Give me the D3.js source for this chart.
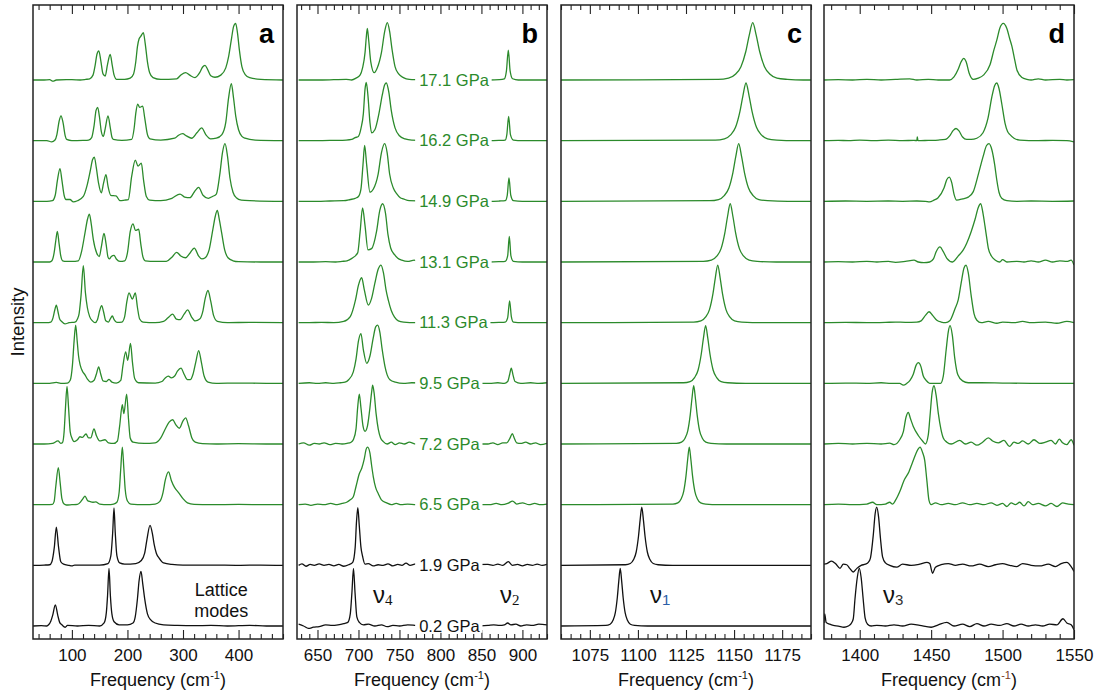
<!DOCTYPE html>
<html><head><meta charset="utf-8">
<script src="https://cdn.jsdelivr.net/npm/d3@7/dist/d3.min.js"></script>
<style>
body{margin:0;background:#fff}
svg{display:block}
text{font-family:"Liberation Sans",Arial,Helvetica,sans-serif}
</style>
</head><body>
<svg id="chart" width="1104" height="700"></svg>
<script>
// ---------------- DATA ----------------
const pressures = ["0.2 GPa","1.9 GPa","6.5 GPa","7.2 GPa","9.5 GPa","11.3 GPa","13.1 GPa","14.9 GPa","16.2 GPa","17.1 GPa"];
const phase = ["low","low","high","high","high","high","high","high","high","high"];

const latticeTicks = [100,200,300,400];
const nu4Ticks = [650,700,750,800,850,900];
const nu1Ticks = [1075,1100,1125,1150,1175];
const nu3Ticks = [1400,1450,1500,1550];

// spectra: [frequency (cm-1), intensity relative to own baseline], one array per pressure (low -> high)
const latticeSpectra = [
 [[30,0],[45,0.005],[55,0],[58,0.02],[62,0.08],[65.5,0.18],[70.2,0.35],[74.5,0.18],[78,0.06],[82,0.02],[88,-0.02],[92,0.01],[110,0],[130,0.01],[150,0],[158,0.05],[162,0.22],[164.2,0.5],[166.8,0.95],[169.3,0.5],[172,0.2],[176,0.07],[185,0.02],[200,0.02],[210,0.05],[214,0.15],[218,0.45],[221,0.75],[224.4,0.9],[227.5,0.7],[231,0.45],[236,0.2],[242,0.1],[250,0.05],[265,0.02],[290,0.01],[320,0.005],[350,0.01],[380,0],[420,0.01],[450,0],[480,0]],
 [[30,0],[50,0.005],[60,0.01],[64,0.06],[68.4,0.3],[72,0.63],[76,0.3],[80,0.06],[85,0.02],[95,0],[100,-0.01],[105,0.005],[130,0.005],[150,0.005],[165,0.03],[170,0.15],[173.5,0.55],[175.8,0.945],[178,0.55],[181,0.16],[186,0.04],[195,0.02],[215,0.03],[225,0.08],[231,0.2],[235,0.42],[240.6,0.66],[245,0.52],[248,0.35],[252,0.2],[257,0.12],[265,0.04],[280,0.015],[300,0.005],[350,0.005],[400,0],[440,0.005],[480,0]],
 [[30,0],[55,0],[65,0.005],[68,0.05],[71,0.3],[75.6,0.61],[79,0.35],[82,0.1],[86,0.01],[90,-0.005],[100,0],[110,0.005],[116,0.05],[120,0.1],[123.6,0.14],[128,0.07],[133,0.05],[138,0.04],[143,0.045],[150,0.01],[165,0],[175,0.01],[181,0.04],[185,0.2],[188,0.6],[190.8,0.95],[193.5,0.6],[196,0.25],[200,0.06],[206,0.01],[230,0],[250,0.01],[258,0.05],[264,0.2],[268,0.4],[274,0.54],[279,0.4],[285,0.28],[292,0.2],[300,0.1],[308,0.03],[320,0.005],[350,0],[400,0.005],[450,0],[480,0]],
 [[30,0],[50,0],[65,0.01],[75,0.05],[80,0.01],[83,0.02],[86,0.2],[88.5,0.6],[91.2,0.95],[94,0.6],[97,0.2],[100,0.1],[104,0.04],[110,0.07],[114.6,0.12],[119,0.11],[125.4,0.165],[130,0.1],[134,0.1],[139.8,0.25],[144,0.14],[150,0.05],[159.6,0.07],[166,0.02],[175,0.01],[182,0.05],[186,0.3],[190.8,0.65],[193.5,0.5],[198.6,0.82],[202,0.4],[205,0.1],[210,0.03],[230,0.01],[250,0.02],[260,0.1],[267.6,0.24],[275,0.36],[281.4,0.4],[287,0.32],[293.4,0.26],[300,0.38],[304.8,0.43],[310,0.3],[316,0.1],[322,0.03],[335,0.005],[360,0],[400,0.005],[450,0],[480,0]],
 [[30,0],[60,0],[72,0.015],[80,0],[92,0.005],[97,0.05],[101,0.3],[104,0.7],[106.8,0.96],[109.5,0.7],[112,0.45],[115,0.3],[119,0.2],[123.6,0.14],[128,0.07],[134,0.02],[140,0.05],[144,0.15],[148.2,0.27],[152,0.15],[156,0.04],[162,0.03],[166.8,0.066],[172,0.02],[180,0.005],[188,0.05],[192,0.3],[196.8,0.52],[200.5,0.38],[205.5,0.66],[209,0.35],[213,0.08],[220,0.01],[250,0.005],[262,0.03],[268,0.09],[273.6,0.12],[279,0.09],[285,0.12],[290,0.2],[296.4,0.25],[302,0.15],[308,0.06],[313,0.06],[318,0.15],[323,0.35],[328.2,0.54],[333,0.35],[338,0.12],[345,0.02],[360,0],[400,0.005],[450,0],[480,0]],
 [[30,0],[55,0],[62,0.01],[66,0.08],[69,0.2],[72,0.29],[75,0.18],[78,0.06],[81.6,0.02],[87.6,-0.02],[95,0],[105.6,0.01],[110,0.06],[113,0.15],[116.5,0.45],[120.6,0.94],[124.3,0.5],[127.8,0.25],[132,0.1],[137,0.03],[141.6,0],[146,0.05],[150,0.2],[153.6,0.28],[157,0.18],[161,0.03],[166,0.01],[169,0.06],[172.8,0.11],[176,0.05],[181,0.005],[190,0.01],[195,0.1],[199,0.35],[202.8,0.49],[208.8,0.39],[214.2,0.49],[218,0.25],[222,0.06],[228,0.01],[250,0],[265,0.02],[273,0.08],[281.4,0.14],[288,0.06],[295,0.05],[302,0.14],[308.4,0.21],[315,0.1],[322,0.03],[330,0.06],[336,0.2],[340,0.4],[345,0.53],[350,0.35],[355,0.12],[362,0.02],[380,0],[420,0.005],[480,0]],
 [[30,0],[50,0],[60,0],[64,0.02],[68,0.15],[71,0.35],[73.8,0.505],[77,0.3],[80,0.1],[83.4,0.02],[90,0.01],[100,0.01],[111.6,0.02],[117.6,0.18],[123.6,0.48],[128,0.7],[131.4,0.79],[134.5,0.65],[138.6,0.37],[144.6,0.15],[149.4,0.09],[153,0.25],[157.8,0.47],[161.5,0.3],[165,0.08],[167.4,0.05],[171,0.09],[175.8,0.11],[180,0.05],[186.6,0.01],[195,0.02],[200,0.15],[205,0.5],[210,0.63],[214.5,0.52],[220.2,0.54],[224,0.3],[228,0.08],[232,0.02],[250,0.01],[270,0.01],[280,0.08],[288.6,0.16],[296,0.1],[304.8,0.07],[312,0.14],[320.4,0.23],[328,0.1],[334,0.05],[340,0.07],[347,0.2],[354,0.55],[358,0.75],[361.8,0.85],[365,0.72],[369.6,0.48],[375,0.2],[381,0.07],[390,0.02],[400,0.005],[440,0],[480,0]],
 [[30,0],[55,0],[65,0.01],[70,0.1],[74,0.35],[78.6,0.54],[82,0.35],[86,0.1],[89.4,0.03],[96.6,0.03],[102.6,-0.01],[110,0.01],[120.6,0.08],[127,0.25],[133,0.5],[137,0.68],[140.4,0.73],[144,0.55],[148,0.3],[153,0.14],[157,0.3],[161.4,0.44],[165,0.25],[170,0.1],[179.4,0.09],[186.6,0.01],[195,0.02],[201.6,0.03],[207.6,0.41],[214.2,0.68],[219,0.58],[225,0.63],[229,0.35],[234,0.08],[240,0.02],[260,0.01],[280,0.05],[294.6,0.12],[303,0.07],[312.6,0.06],[320,0.15],[328.2,0.23],[336,0.1],[345.6,0.05],[353,0.08],[360,0.12],[366.6,0.47],[371,0.8],[375.6,0.95],[380,0.75],[384.6,0.38],[390,0.15],[396,0.06],[405,0.02],[420,0.01],[480,0]],
 [[30,0],[55,0],[63.6,-0.02],[69.6,0.01],[73,0.1],[77,0.32],[80.4,0.41],[84,0.3],[88,0.08],[90.6,0.02],[100,0],[120,0.005],[130,0.01],[135.6,0.05],[140,0.25],[143.5,0.5],[146.4,0.55],[149.5,0.4],[153,0.15],[156.6,0.07],[160,0.2],[165,0.41],[169,0.22],[172,0.06],[174.6,0.02],[190,0.005],[207.6,0.02],[212,0.2],[215,0.45],[218.4,0.6],[222,0.55],[227.4,0.57],[231,0.38],[236,0.1],[240.6,0.03],[260,0.01],[285,0.04],[292,0.09],[299.4,0.115],[306,0.08],[315.6,0.04],[325,0.13],[333.6,0.21],[341,0.1],[349.8,0.03],[360,0.04],[370,0.1],[377,0.3],[382,0.7],[387,0.94],[391,0.7],[395,0.4],[400,0.18],[406,0.07],[411.6,0.04],[430,0.01],[480,0]],
 [[30,0],[50,0],[60,0.005],[66,-0.02],[72,0],[90,0.005],[100,0.005],[115,0],[125,0.01],[132,0.02],[138,0.08],[142,0.25],[145,0.42],[148.5,0.48],[152,0.32],[156,0.1],[160,0.066],[164,0.25],[169,0.42],[172.5,0.25],[176,0.08],[180.6,0.01],[195,0.01],[205,0.03],[211,0.1],[215,0.3],[218,0.55],[221,0.68],[224,0.72],[228.6,0.78],[232,0.6],[236,0.3],[240,0.12],[246,0.04],[260,0.01],[288.6,0.02],[296,0.08],[304.8,0.12],[312,0.08],[321.6,0.04],[330,0.12],[335,0.21],[339.6,0.24],[344,0.18],[350,0.07],[357.6,0.045],[368,0.08],[377,0.2],[382,0.38],[387.6,0.7],[391,0.88],[394.8,0.934],[398,0.78],[401.4,0.5],[406,0.22],[412,0.09],[420,0.04],[440,0.01],[480,0]]
];

const nu4Spectra = [
 [[627,0.03],[633,0.0],[639,-0.04],[645,-0.02],[652,-0.01],[660,0.02],[668,0.01],[675,0.02],[682,0.04],[687,0.06],[690,0.2],[692,0.55],[693.9,0.95],[695.8,0.55],[698,0.15],[701,0.06],[706,0.02],[712,0.03],[720,0.0],[728,0.02],[735,-0.01],[742,0.01],[750,0.0],[760,0.02],[770,0.01],[780,0.0],[800,0.01],[820,0.0],[840,0.0],[858,0.01],[865,0.02],[872,0.01],[878,0.02],[882,0.05],[886,0.02],[892,0.03],[898,0.0],[905,0.02],[912,0.01],[920,0.03],[930,0.02]],
 [[627,0.0],[631,0.025],[636,-0.015],[641,0.015],[646,0.0],[652,0.025],[658,0.0],[664,0.015],[670,-0.01],[676,0.015],[682,-0.015],[688,0.01],[693,0.05],[696,0.3],[697.5,0.7],[699.2,0.95],[701,0.65],[703,0.3],[705,0.15],[708,0.02],[712,0.03],[718,-0.01],[724,0.01],[730,0.0],[736,0.025],[742,-0.01],[748,0.015],[753,0.0],[758,0.035],[763,0.0],[770,0.025],[780,0.0],[800,0],[858,0.015],[864,0.0],[870,0.02],[876,0.0],[882.8,0.06],[888,0.0],[894,0.015],[900,-0.01],[906,0.015],[912,0.0],[918,0.02],[924,0.0],[930,0.015]],
 [[627,0.0],[635,0.01],[642,-0.01],[650,0.01],[658,0.0],[666,0.02],[674,0.0],[680,0.02],[685.6,0.04],[690,0.08],[693.7,0.13],[697,0.3],[701,0.51],[704,0.6],[707,0.75],[709.5,0.92],[711.2,0.95],[714,0.85],[716,0.65],[718.1,0.46],[721,0.28],[724.2,0.18],[728,0.08],[734.4,0.03],[740,0.0],[746,0.02],[752,0.0],[760,0.01],[770,0.0],[800,0],[860,0.0],[868,0.02],[875,0.0],[882,0.02],[888.1,0.06],[893,0.01],[900,0.03],[908,0.0],[915,0.02],[922,0.0],[930,0.01]],
 [[627,0.0],[633,0.02],[640,-0.02],[646,0.01],[652,0.0],[658,0.02],[665,-0.01],[672,0.01],[680,0.0],[686,0.01],[691,0.03],[694,0.08],[697,0.25],[699,0.6],[701,0.82],[703,0.6],[705.5,0.3],[708,0.21],[711,0.3],[714,0.6],[716,0.85],[717.3,0.97],[719,0.85],[721.5,0.5],[724.2,0.24],[727,0.1],[730.3,0.04],[735,0.0],[740,0.03],[745,-0.01],[750,0.02],[756,0.0],[762,0.03],[770,0.0],[800,0],[858,0.0],[864,0.02],[870,-0.01],[876,0.02],[881,0.02],[885,0.1],[887.7,0.17],[890,0.1],[893,0.02],[898,0.01],[904,0.03],[910,0.0],[916,0.02],[922,-0.01],[930,0.01]],
 [[627,0.0],[640,0.01],[650,0.0],[660,0.01],[670,0.0],[678,0.01],[683.6,0.02],[688,0.06],[693.7,0.19],[697,0.4],[700,0.7],[703,0.82],[706,0.55],[710.1,0.33],[714,0.45],[718,0.75],[721,0.93],[723.4,0.96],[726,0.85],[729,0.55],[732.3,0.28],[735,0.14],[738.4,0.06],[745,0.02],[755,0.0],[765,0.01],[800,0],[860,0.0],[870,0.01],[878,0.0],[882,0.03],[884.5,0.15],[886.4,0.25],[888.5,0.14],[891,0.03],[898,0.0],[910,0.01],[920,0.0],[930,0.01]],
 [[627,0.0],[640,0.0],[655,0.005],[670,0.0],[682,0.02],[690,0.1],[696.3,0.37],[700,0.62],[703.9,0.74],[707,0.55],[712,0.29],[716,0.4],[720,0.65],[724,0.88],[727.4,0.95],[730.5,0.82],[733.5,0.55],[736.4,0.37],[740,0.2],[744,0.09],[748.6,0.03],[755,0.01],[770,0.0],[800,0],[860,0.0],[872,0.005],[879,0.01],[882,0.08],[884.4,0.36],[886.5,0.1],[889,0.01],[900,0.0],[930,0.0]],
 [[627,0.0],[645,0.0],[660,0.005],[672,0.0],[680,0.01],[686,0.02],[692,0.06],[699,0.15],[702,0.5],[705,0.89],[708,0.6],[711.6,0.2],[716,0.22],[722,0.5],[726,0.85],[729.5,0.96],[733,0.8],[736,0.45],[739.3,0.23],[744,0.12],[748,0.06],[752.8,0.03],[760,0.01],[768,0.03],[772,0.01],[800,0],[860,0.0],[872,0.005],[879,0.01],[882,0.1],[884,0.42],[886,0.1],[889,0.01],[900,0.0],[930,0.0]],
 [[627,0.0],[650,0.0],[665,0.005],[682,0.01],[690,0.03],[696,0.05],[700,0.08],[703,0.2],[705.5,0.6],[707.5,0.92],[710,0.6],[714,0.15],[718,0.2],[724,0.45],[728,0.8],[731.9,0.95],[735,0.8],[738,0.45],[742.5,0.22],[747,0.12],[751,0.06],[754.8,0.04],[762,0.01],[800,0],[860,0.0],[872,0.005],[879,0.01],[881.5,0.1],[883.6,0.385],[885.8,0.1],[889,0.01],[900,0.0],[930,0.0]],
 [[627,0.0],[650,0.0],[670,0.005],[685,0.01],[691.7,0.02],[696,0.05],[699.8,0.07],[703,0.2],[706,0.45],[708,0.85],[709.5,0.96],[711.5,0.75],[714,0.3],[716,0.13],[720,0.18],[725,0.45],[729,0.75],[732,0.92],[734,0.95],[737,0.8],[740,0.5],[744.6,0.21],[750,0.08],[756.8,0.03],[765,0.01],[800,0],[860,0.0],[872,0.005],[879,0.01],[881,0.1],[883.2,0.4],[885.4,0.1],[889,0.01],[900,0.0],[930,0.0]],
 [[627,0.0],[650,0.0],[670,0.005],[685,0.01],[691.7,0.0],[697,0.03],[701.9,0.08],[705,0.2],[708,0.45],[709.5,0.7],[710.8,0.85],[712.5,0.65],[715,0.3],[719.3,0.12],[723,0.2],[728,0.45],[732,0.8],[735.2,0.945],[738,0.8],[741,0.5],[744.6,0.22],[749,0.1],[754.8,0.04],[762,0.01],[770,0.005],[800,0],[860,0.0],[872,0.005],[878,0.02],[880.5,0.15],[882.8,0.49],[885,0.15],[888,0.02],[895,0.0],[930,0.0]]
];

const nu1Spectra = [
 [[1060,0],[1083.3,0.01],[1085.55,0.03],[1087.05,0.095],[1088.25,0.22],[1089.3,0.475],[1090.05,0.74],[1090.8,0.95],[1091.55,0.74],[1092.3,0.475],[1093.35,0.22],[1094.55,0.095],[1096.05,0.03],[1098.3,0.01],[1105,0],[1190,0]],
 [[1060,0],[1093.5,0.01],[1096.05,0.03],[1097.75,0.096],[1099.1,0.22],[1100.3,0.48],[1101.15,0.75],[1102,0.96],[1102.85,0.75],[1103.7,0.48],[1104.9,0.22],[1106.25,0.096],[1107.95,0.03],[1110.5,0.01],[1118,0],[1190,0]],
 [[1060,0],[1118.2,0.01],[1120.75,0.03],[1122.45,0.095],[1123.8,0.22],[1125,0.475],[1125.85,0.74],[1126.7,0.95],[1127.55,0.74],[1128.4,0.475],[1129.6,0.22],[1130.95,0.095],[1132.65,0.03],[1135.2,0.01],[1142,0],[1190,0]],
 [[1060,0],[1120,0.01],[1122.7,0.03],[1124.5,0.096],[1125.94,0.22],[1127.2,0.48],[1128.1,0.75],[1129,0.96],[1129.9,0.75],[1130.8,0.48],[1132.06,0.22],[1133.5,0.096],[1135.3,0.03],[1138,0.01],[1146,0],[1190,0]],
 [[1060,0],[1123.7,0.01],[1127.15,0.03],[1129.45,0.095],[1131.3,0.22],[1132.9,0.475],[1134.05,0.74],[1135.2,0.95],[1136.35,0.74],[1137.5,0.475],[1139.1,0.22],[1140.95,0.095],[1143.25,0.03],[1146.7,0.01],[1156,0],[1190,0]],
 [[1060,0],[1129,0.01],[1132.75,0.03],[1135.25,0.095],[1137.25,0.22],[1139,0.475],[1140.25,0.74],[1141.5,0.95],[1142.75,0.74],[1144,0.475],[1145.75,0.22],[1147.75,0.095],[1150.25,0.03],[1154,0.01],[1165,0],[1190,0]],
 [[1060,0],[1134,0.01],[1138.2,0.03],[1141,0.096],[1143.24,0.22],[1145.2,0.48],[1146.6,0.75],[1148,0.96],[1149.4,0.75],[1150.8,0.48],[1152.76,0.22],[1155,0.096],[1157.8,0.03],[1162,0.01],[1172,0],[1190,0]],
 [[1060,0],[1137.4,0.01],[1141.9,0.03],[1144.9,0.095],[1147.3,0.22],[1149.4,0.475],[1150.9,0.74],[1152.4,0.95],[1153.9,0.74],[1155.4,0.475],[1157.5,0.22],[1159.9,0.095],[1162.9,0.03],[1167.4,0.01],[1178,0],[1190,0]],
 [[1060,0],[1140.2,0.01],[1145,0.03],[1148.2,0.095],[1150.76,0.22],[1153,0.475],[1154.6,0.74],[1156.2,0.95],[1157.8,0.74],[1159.4,0.475],[1161.64,0.22],[1164.2,0.095],[1167.4,0.03],[1172.2,0.01],[1182,0],[1190,0]],
 [[1060,0],[1141.7,0.01],[1147.1,0.03],[1150.7,0.095],[1153.58,0.22],[1156.1,0.47],[1157.9,0.74],[1159.7,0.945],[1161.5,0.74],[1163.3,0.47],[1165.82,0.22],[1168.7,0.095],[1172.3,0.03],[1177.7,0.01],[1186,0],[1190,0]]
];

const nu3Spectra = [
 [[1375,0.05],[1375.5,0.2],[1376.5,0.06],[1379,0.03],[1381.5,0.01],[1385,0.0],[1389,-0.02],[1392,0.0],[1394,0.04],[1395.5,0.12],[1396.7,0.45],[1398.3,0.8],[1399.7,0.95],[1401,0.8],[1402.4,0.45],[1403.8,0.13],[1405.5,0.03],[1408,0.0],[1412,0.01],[1418,0.0],[1424,0.02],[1430,0.0],[1436,0.03],[1442,0.01],[1450,-0.02],[1455,0.02],[1461,0.06],[1466,0.0],[1472,0.03],[1477,-0.01],[1482,0.04],[1487,0.0],[1492,0.03],[1498,0.01],[1503,0.04],[1508,0.0],[1513,0.03],[1518,0.0],[1523,0.02],[1528,0.0],[1533,0.03],[1538,0.02],[1542.3,0.12],[1545,0.05],[1548,0.02],[1550,-0.06]],
 [[1375,0.02],[1377,0.03],[1380.3,0.07],[1383,0.03],[1386.2,-0.05],[1388.5,0.02],[1390.9,0.01],[1393,-0.05],[1395.5,-0.11],[1398,-0.05],[1401,0.0],[1404,0.02],[1406,0.05],[1407.5,0.12],[1409.5,0.5],[1410.8,0.85],[1411.9,0.96],[1413.2,0.8],[1414.5,0.45],[1416,0.14],[1418,0.04],[1421,0.0],[1425.9,-0.03],[1430,0.02],[1436,0.0],[1442,0.02],[1447,0.05],[1449,0.03],[1451,-0.13],[1453,-0.03],[1457,0.01],[1462,0.03],[1467,0.0],[1472,0.02],[1478,-0.01],[1484,0.02],[1490,-0.02],[1495,0.01],[1500,0.03],[1505,0.0],[1510,-0.02],[1514,0.03],[1520,0.0],[1526,-0.01],[1532,0.02],[1537,-0.02],[1541,0.03],[1545,0.05],[1548,-0.02],[1550,-0.1]],
 [[1375,0.0],[1385,0.01],[1395,0.0],[1405,0.01],[1409,0.04],[1412,0.0],[1418,0.01],[1421,0.04],[1423,0.01],[1425,0.07],[1428.5,0.24],[1431,0.4],[1434.4,0.54],[1437,0.7],[1441,0.92],[1442.2,0.95],[1444,0.86],[1445.5,0.73],[1447,0.4],[1448.5,0.07],[1450,0.0],[1453,0.03],[1457,0.0],[1462,0.02],[1467,0.0],[1472,0.03],[1477,0.0],[1482,0.02],[1487,0.0],[1492,0.03],[1496,-0.01],[1500,0.02],[1503,-0.03],[1506,0.03],[1509,0.0],[1512,0.04],[1515,-0.02],[1518,0.05],[1521,0.0],[1525,0.02],[1530,-0.02],[1534,0.02],[1538,-0.03],[1542,0.03],[1546,0.01],[1550,0.0]],
 [[1375,0.0],[1385,0.01],[1395,0.0],[1405,0.01],[1415,0.0],[1421,0.015],[1424,-0.01],[1428,0.07],[1430.5,0.2],[1432.5,0.45],[1434,0.52],[1435.5,0.42],[1437.5,0.29],[1441,0.14],[1444,0.05],[1446,0.0],[1448,0.15],[1449.2,0.46],[1450.7,0.85],[1452,0.96],[1453.5,0.8],[1455,0.51],[1456.8,0.25],[1458.5,0.1],[1461,0.03],[1464,0.0],[1470,0.06],[1474,0.0],[1478,0.03],[1482,-0.02],[1486,0.03],[1490,0.1],[1493,0.05],[1497,0.02],[1501,0.06],[1504.8,-0.04],[1508,0.03],[1511,0.01],[1514,0.05],[1518,0.0],[1522,0.07],[1526,0.01],[1530,0.03],[1534,0.06],[1537,0.0],[1539.7,0.08],[1542,0.02],[1545,-0.01],[1548,0.07],[1550,-0.02]],
 [[1375,0.0],[1390,0.005],[1405,0.0],[1415,0.01],[1422,0.0],[1428,0.0],[1430.5,-0.03],[1433,0.0],[1435.2,0.05],[1437.5,0.15],[1439.5,0.3],[1441,0.34],[1442.8,0.28],[1444.5,0.12],[1446.5,0.05],[1449,0.0],[1456.6,0.0],[1458.5,0.12],[1460.5,0.55],[1462,0.85],[1463.2,0.95],[1464.8,0.8],[1466.5,0.42],[1468.7,0.14],[1472,0.04],[1476,0.01],[1485,0.01],[1500,0.005],[1520,0.0],[1550,0.0]],
 [[1375,0.0],[1390,0.005],[1405,0.0],[1418,0.005],[1425,0.01],[1432,0.005],[1440,0.01],[1443,0.03],[1446,0.12],[1448.5,0.18],[1451,0.12],[1454,0.04],[1457,0.01],[1460.2,0.0],[1463,0.03],[1466.7,0.23],[1469,0.38],[1471,0.65],[1473,0.9],[1474.4,0.95],[1476,0.82],[1478,0.45],[1480,0.15],[1482,0.04],[1485,0.0],[1490,0.02],[1496,-0.01],[1500,0.01],[1508,0.0],[1514,0.02],[1520,0.0],[1530,0.01],[1538,-0.01],[1545,0.02],[1550,0.0]],
 [[1375,0.0],[1385,0.005],[1395,0.0],[1405,0.01],[1412,0.0],[1420,0.01],[1425,-0.005],[1432,0.01],[1438,0.03],[1441,0.0],[1445,-0.01],[1449,0.0],[1451.6,0.05],[1453.5,0.17],[1456.2,0.25],[1458.5,0.17],[1461,0.06],[1465,0.0],[1469,0.1],[1472.5,0.2],[1474.9,0.31],[1478,0.5],[1480.7,0.7],[1483,0.9],[1484.7,0.96],[1486.3,0.8],[1487.7,0.59],[1489,0.38],[1490,0.23],[1492.4,0.09],[1495,0.03],[1498,0.0],[1500,0.04],[1503,0.0],[1510,0.01],[1515,0.0],[1520,0.02],[1525,0.0],[1530,0.03],[1535,0.0],[1540,0.02],[1545,0.01],[1548,0.03],[1550,-0.05]],
 [[1375,0.0],[1390,0.005],[1405,0.0],[1420,0.005],[1430,0.0],[1440,0.005],[1446,0.0],[1448.9,-0.01],[1452,0.02],[1454.7,0.055],[1459,0.22],[1461,0.36],[1462.7,0.4],[1464.5,0.3],[1466,0.12],[1467.9,0.02],[1472,0.04],[1476,0.07],[1479.5,0.16],[1483.3,0.47],[1486.5,0.75],[1488.8,0.92],[1490.5,0.95],[1492.5,0.85],[1494.5,0.6],[1495.9,0.36],[1497.5,0.15],[1499.4,0.05],[1503,0.01],[1510,0.0],[1520,0.005],[1535,0.0],[1550,0.005]],
 [[1375,0.0],[1385,0.005],[1392,0.0],[1400,0.01],[1410,0.0],[1420,0.01],[1430,0.0],[1438,0.005],[1440,0.0],[1440.3,0.06],[1440.8,0.0],[1448,0.005],[1455,0.01],[1460,0.02],[1463,0.08],[1465.5,0.17],[1467.4,0.2],[1469.5,0.16],[1472,0.06],[1474.9,0.02],[1478,0.02],[1482,0.04],[1486.3,0.13],[1489.8,0.37],[1492.5,0.72],[1494.5,0.91],[1495.9,0.95],[1497.5,0.86],[1499.5,0.6],[1501.7,0.29],[1503.5,0.15],[1505.2,0.1],[1508,0.04],[1512,0.01],[1525,0.0],[1535,0.005],[1545,0.0],[1550,-0.02]],
 [[1375,0.0],[1385,0.005],[1395,0.0],[1405,0.01],[1415,0.0],[1425,0.01],[1435,0.02],[1440,0.0],[1448,0.01],[1455,0.0],[1462.9,0.0],[1466,0.05],[1469,0.18],[1471,0.3],[1472.8,0.357],[1474.5,0.3],[1476.5,0.12],[1479.5,0.01],[1483,0.03],[1486.6,0.08],[1491.2,0.25],[1494,0.5],[1496,0.66],[1498,0.85],[1500.5,0.934],[1503,0.85],[1505,0.68],[1506.6,0.55],[1508.5,0.33],[1510.1,0.16],[1513.6,0.04],[1517,0.01],[1520,0.0],[1525,0.02],[1530,0.0],[1540,0.01],[1545,0.0],[1550,0.005]]
];

// ---------------- LAYOUT / STYLE ----------------
const GREEN = "#2b8a2b";
const colorOf = ph => ph === "low" ? "#111" : GREEN;
const PW = 250, TOP = 5, BOT = 639;
const lefts = [33, 297, 561, 824];

const panels = [
  {letter:"a", domain:[30,480], major:latticeTicks, minorStep:20, data:latticeSpectra},
  {letter:"b", domain:[625,930], major:nu4Ticks, minorStep:10, data:nu4Spectra},
  {letter:"c", domain:[1060,1190], major:nu1Ticks, minorStep:5, data:nu1Spectra},
  {letter:"d", domain:[1375,1550], major:nu3Ticks, minorStep:10, data:nu3Spectra}
];

const svg = d3.select("#chart");
const y = d3.scaleLinear().domain([-0.214, 10.236]).range([BOT, TOP]);

function styleAxis(g, fs){
  g.select(".domain").remove();
  g.selectAll(".tick line").attr("stroke","#222").attr("stroke-width",1.1);
  g.selectAll(".tick text").attr("fill","#111").attr("font-size",fs)
    .attr("font-family",'"Liberation Sans",Arial,sans-serif');
}

const xs = [];
panels.forEach((p,k)=>{
  const g = svg.append("g").attr("transform",`translate(${lefts[k]},0)`);
  const x = d3.scaleLinear().domain(p.domain).range([0,PW]);
  xs.push(x);
  g.append("clipPath").attr("id","clip"+k).append("rect")
    .attr("x",0).attr("y",TOP).attr("width",PW).attr("height",BOT-TOP);
  const lg = g.append("g").attr("clip-path",`url(#clip${k})`);
  p.data.forEach((tr,i)=>{
    const line = d3.line().x(d=>x(d[0])).y(d=>y(i+d[1])).curve(d3.curveMonotoneX);
    lg.append("path").attr("d",line(tr)).attr("fill","none")
      .attr("stroke",colorOf(phase[i])).attr("stroke-width",1.3).attr("stroke-linejoin","round");
  });

  const lo = Math.ceil(p.domain[0]/p.minorStep)*p.minorStep;
  const minor = d3.range(lo, p.domain[1]+0.001, p.minorStep).filter(v=>!p.major.includes(v));
  g.append("g").attr("transform",`translate(0,${BOT})`)
    .call(d3.axisBottom(x).tickValues(minor).tickSize(-5).tickFormat(""))
    .call(s=>styleAxis(s,17));
  g.append("g").attr("transform",`translate(0,${BOT})`)
    .call(d3.axisBottom(x).tickValues(p.major).tickSize(-9).tickPadding(10).tickFormat(d3.format("d")))
    .call(s=>styleAxis(s,17));
  g.append("g").attr("transform",`translate(0,${TOP})`)
    .call(d3.axisTop(x).tickValues(minor).tickSize(-5).tickFormat(""))
    .call(s=>styleAxis(s,17));
  g.append("g").attr("transform",`translate(0,${TOP})`)
    .call(d3.axisTop(x).tickValues(p.major).tickSize(-9).tickFormat(""))
    .call(s=>styleAxis(s,17));

  g.append("rect").attr("x",0).attr("y",TOP).attr("width",PW).attr("height",BOT-TOP)
    .attr("fill","none").attr("stroke","#222").attr("stroke-width",1.5);

  g.append("text").attr("x",PW-9).attr("y",43).attr("text-anchor","end")
    .attr("font-size",27).attr("font-weight","bold").attr("fill","#000").text(p.letter);

  const t = g.append("text").attr("x",PW/2).attr("y",686).attr("text-anchor","middle")
    .attr("font-size",18).attr("fill","#111");
  t.append("tspan").text("Frequency (cm");
  t.append("tspan").attr("font-size",11).attr("dy",-7).attr("fill", k===3 ? "#7a3b1a" : "#111").text("-1");
  t.append("tspan").attr("dy",7).text(")");
  p.g = g;
});

svg.append("text").attr("transform","translate(24,322) rotate(-90)")
  .attr("text-anchor","middle").attr("font-size",18.5).attr("fill","#111").text("Intensity");

const gb = panels[1].g, xb = xs[1];
pressures.forEach((lab,i)=>{
  const col = colorOf(phase[i]);
  const bgr = gb.append("rect").attr("fill","#fff");
  const tx = gb.append("text").attr("x",xb(774)).attr("y",y(i)).attr("dy","0.35em")
    .attr("font-size",16.5).attr("fill",col).text(lab);
  const bb = tx.node().getBBox();
  bgr.attr("x",bb.x-4).attr("y",bb.y+2).attr("width",bb.width+6).attr("height",bb.height-4);
});

const ga = panels[0].g, xa = xs[0];
ga.append("text").attr("x",xa(369)).attr("y",y(0.49)).attr("text-anchor","middle")
  .attr("font-size",18).attr("fill","#111").text("Lattice");
ga.append("text").attr("x",xa(369)).attr("y",y(0.15)).attr("text-anchor","middle")
  .attr("font-size",18).attr("fill","#111").text("modes");

function nuLabel(g, xpos, sub, subColor, subFont){
  const t = g.append("text").attr("x",xpos).attr("y",y(0.38))
    .attr("font-family",'"Liberation Serif","Times New Roman",serif').attr("font-size",24).attr("fill","#111");
  t.append("tspan").text("ν");
  t.append("tspan").attr("font-size",15).attr("dy",2).attr("fill",subColor)
    .attr("font-family",subFont).text(sub);
}
nuLabel(panels[1].g, xs[1](717.7), "4", "#111", '"Liberation Serif",serif');
nuLabel(panels[1].g, xs[1](872.7), "2", "#111", '"Liberation Serif",serif');
nuLabel(panels[2].g, xs[2](1106.3), "1", "#2a5ea8", '"Liberation Sans",sans-serif');
nuLabel(panels[3].g, xs[3](1416.3), "3", "#333", '"Liberation Sans",sans-serif');
</script>
</body></html>
